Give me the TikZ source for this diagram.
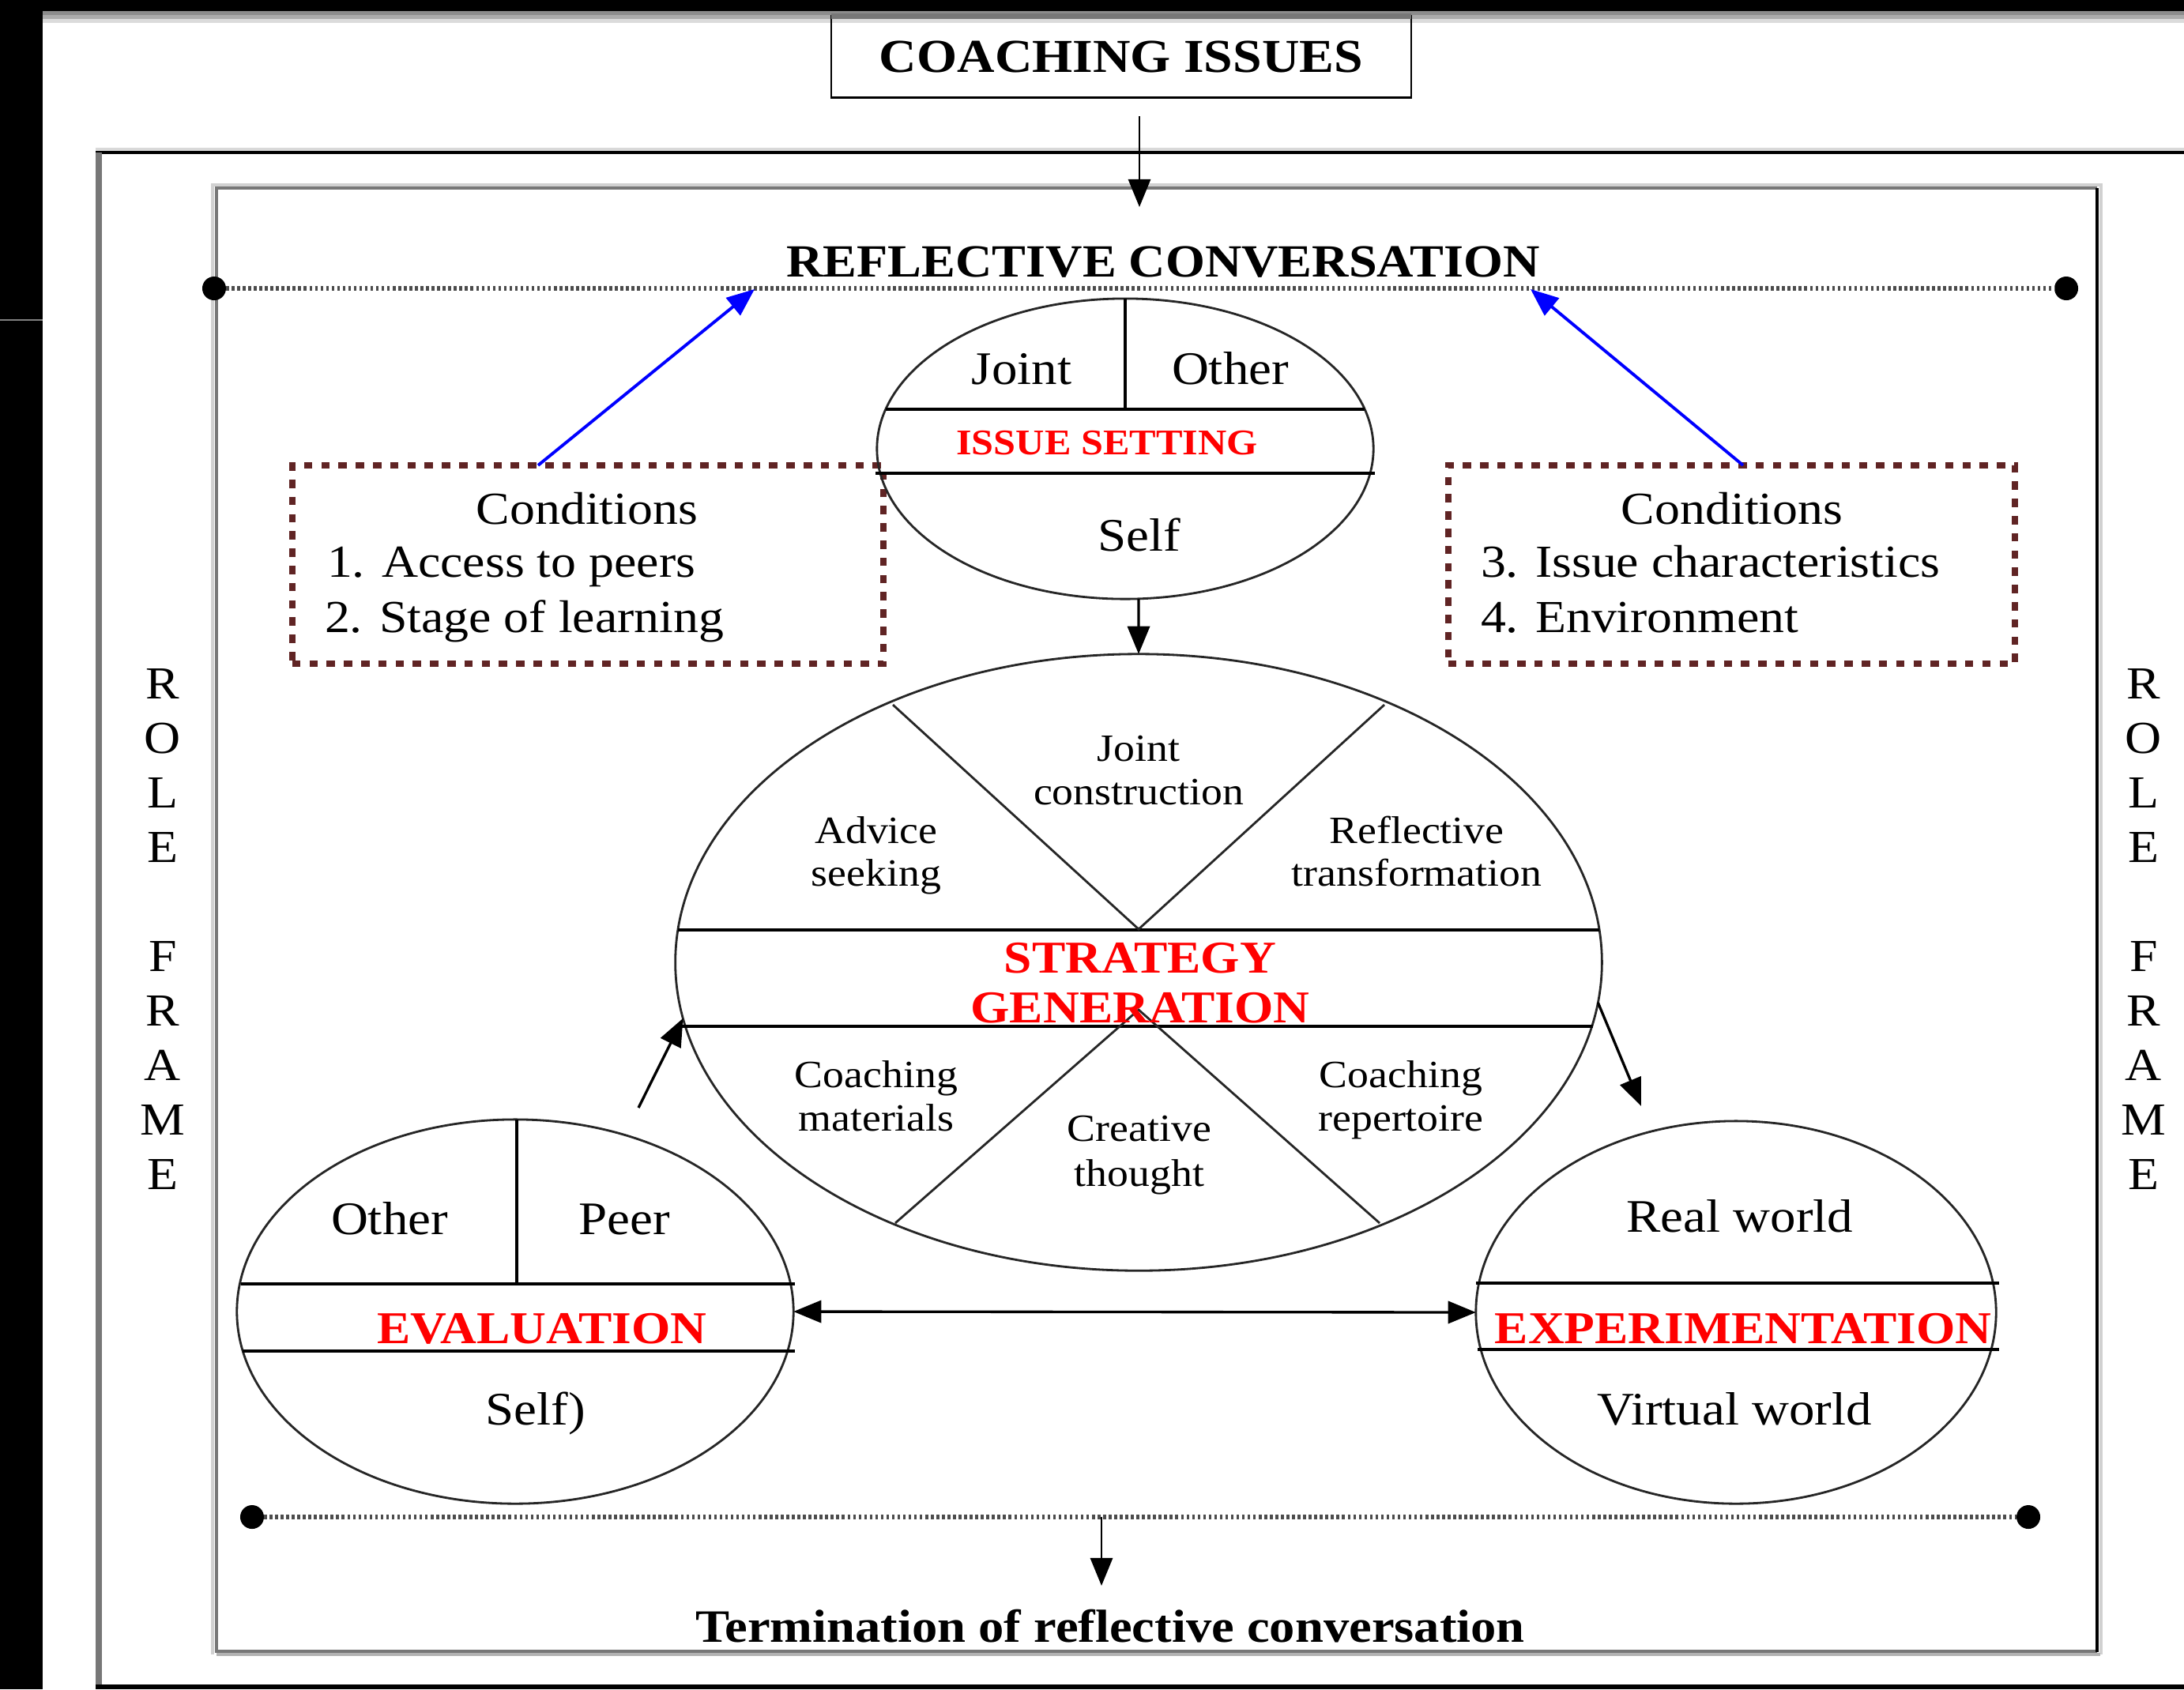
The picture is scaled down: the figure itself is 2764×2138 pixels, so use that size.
\documentclass[tikz,border=0pt]{standalone}
\usepackage{fontspec}
\setmainfont{Liberation Serif}[FakeStretch=1.1]
\usetikzlibrary{arrows.meta,shapes.geometric}
\definecolor{condbrown}{RGB}{96,36,36}
\definecolor{framegray}{RGB}{119,119,119}
\tikzset{
  every node/.style={inner sep=0pt, outer sep=0pt},
  txt/.style={anchor=base, font=\fontsize{16.8}{19}\selectfont},
  smalltxt/.style={anchor=base, font=\fontsize{13.9}{15.6}\selectfont},
  condtxt/.style={anchor=base, font=\fontsize{16.5}{19.5}\selectfont},
  redhead/.style={anchor=base, text=red, font=\bfseries\fontsize{16.4}{18}\selectfont},
  issuehead/.style={anchor=base, text=red, font=\bfseries\fontsize{13}{15}\selectfont},
  titletxt/.style={anchor=base, font=\bfseries\fontsize{16.6}{20}\selectfont},
  rolel/.style={anchor=base, font=\fontsize{16.5}{19}\selectfont},
  oval/.style={ellipse, draw=black!85, line width=0.8pt},
  sepline/.style={line width=1.1pt},
  diag/.style={line width=0.8pt, draw=black!85},
  arr/.style={line width=0.95pt, -{Triangle[length=10pt,width=8pt]}},
  dblarr/.style={line width=0.95pt, {Triangle[length=10pt,width=8pt]}-{Triangle[length=10pt,width=8pt]}},
  bluearr/.style={arr, line width=1.1pt, draw=blue},
  dotline/.style={line width=1.5pt, draw=black!70, dash pattern=on 1pt off 1pt},
  bigdot/.style={circle, fill=black, minimum size=0.3cm},
  condbox/.style={draw=condbrown, line width=2.2pt, dash pattern=on 3pt off 3.2pt},
}
\begin{document}
\begin{tikzpicture}[x=0.01cm,y=-0.01cm]
\useasboundingbox (0,0) rectangle (2764,2138);
\fill[white] (0,0) rectangle (2764,2138);
% screen edges
\fill[black] (0,0) rectangle (54,2138);
\fill[black] (0,0) rectangle (2764,14);
\fill[black!45] (54,14) rectangle (2764,19);
\fill[black!33] (54,19) rectangle (2764,24);
\fill[black!14] (54,24) rectangle (2764,29);
\draw[black!50, line width=0.6pt] (0,405) -- (54,405);

% outer frame
\draw[black!15, line width=1pt] (121,189) -- (2764,189);
\draw[black, line width=1.2pt] (121,193) -- (2764,193);
\draw[framegray, line width=2.2pt] (125,193) -- (125,2135);
\draw[black, line width=1.5pt] (121,2135) -- (2764,2135);

% inner frame
\draw[black!18, line width=1.2pt] (269,2094) -- (269,234) -- (2659,234) -- (2659,2094);
\draw[framegray, line width=1.2pt] (2654,238) -- (274,238) -- (274,2090) -- (2654,2090);
\draw[black, line width=1.2pt] (2654,238) -- (2654,2091);
\draw[black!30, line width=1.2pt] (274,2094) -- (2658,2094);

% title box
\node[draw=black, line width=0.6pt, minimum width=7.34cm, minimum height=1.03cm,
      font=\bfseries\fontsize{17}{20}\selectfont] (ci) at (1419,72) {COACHING ISSUES};
\draw[framegray, line width=2pt] (ci.north west) -- (ci.north east);
\draw[black, line width=1.1pt] (ci.south west) -- (ci.south east);

\node[titletxt] (rc) at (1472,350) {REFLECTIVE CONVERSATION};
\coordinate (ciOut) at (1442,147);
\coordinate (rcIn) at (1442,262);
\draw[arr, line width=0.8pt] (ciOut) -- (rcIn);

% dotted lines
\node[bigdot] (dtl) at (271,365) {};
\node[bigdot] (dtr) at (2615,365) {};
\draw[dotline] (dtl) -- (dtr);
\node[bigdot] (dbl) at (319,1920) {};
\node[bigdot] (dbr) at (2567,1920) {};
\draw[dotline] (dbl) -- (dbr);

% conditions boxes
\node[condbox, minimum width=7.48cm, minimum height=2.51cm] (c1) at (744,714.5) {};
\node[condtxt] (c1t) at (743,663) {Conditions};
\node[condtxt, anchor=base west] (c1a) at (414,730) {1. Access to peers};
\node[condtxt, anchor=base west] (c1b) at (411,800) {2. Stage of learning};
\node[condbox, minimum width=7.17cm, minimum height=2.51cm] (c2) at (2191.5,714.5) {};
\node[condtxt] (c2t) at (2192,663) {Conditions};
\node[condtxt, anchor=base west] (c2a) at (1874,730) {3. Issue characteristics};
\node[condtxt, anchor=base west] (c2b) at (1874,800) {4. Environment};
\coordinate (b1e) at (955,366);
\coordinate (b2e) at (1937,366);
\draw[bluearr] ([xshift=3.11cm]c1.north west) -- (b1e);
\draw[bluearr] ([xshift=3.73cm]c2.north west) -- (b2e);

% issue setting
\node[oval, minimum width=6.28cm, minimum height=3.80cm] (iss) at (1424,568) {};
\draw[sepline] (iss.north) -- (1424,518);
\draw[sepline] (1121,518) -- (1727,518);
\draw[sepline] (1108,599) -- (1740,599);
\node[txt] (isj) at (1293,486) {Joint};
\node[txt] (iso) at (1557,486) {Other};
\node[issuehead] (ish) at (1401,575) {ISSUE SETTING};
\node[txt] (iss2) at (1442,697) {Self};

% strategy generation
\node[oval, minimum width=11.72cm, minimum height=7.80cm] (sg) at (1441,1218) {};
\draw[sepline] (858,1177) -- (2024,1177);
\draw[sepline] (860,1299) -- (2016,1299);
\draw[diag] (1130,892) -- (1441,1176) -- (1752,892);
\draw[diag] (1133,1548) -- (1441,1278) -- (1746,1548);
\node[smalltxt] (sj1) at (1441,963) {Joint};
\node[smalltxt] (sj2) at (1441,1018) {construction};
\node[smalltxt] (sa1) at (1109,1067) {Advice};
\node[smalltxt] (sa2) at (1109,1121) {seeking};
\node[smalltxt] (sr1) at (1793,1067) {Reflective};
\node[smalltxt] (sr2) at (1793,1121) {transformation};
\node[redhead] (sh1) at (1443,1231) {STRATEGY};
\node[redhead] (sh2) at (1443,1294) {GENERATION};
\node[smalltxt] (sm1) at (1109,1376) {Coaching};
\node[smalltxt] (sm2) at (1109,1431) {materials};
\node[smalltxt] (sc1) at (1442,1444) {Creative};
\node[smalltxt] (sc2) at (1442,1501) {thought};
\node[smalltxt] (sp1) at (1773,1376) {Coaching};
\node[smalltxt] (sp2) at (1773,1431) {repertoire};

% evaluation
\node[oval, minimum width=7.04cm, minimum height=4.86cm] (ev) at (652,1660) {};
\draw[sepline] (ev.north -| 654,0) -- (654,1625);
\draw[sepline] (305,1625) -- (1006,1625);
\draw[sepline] (307,1710) -- (1006,1710);
\node[txt] (evo) at (493,1562) {Other};
\node[txt] (evp) at (790,1562) {Peer};
\node[redhead] (evh) at (686,1700) {EVALUATION};
\node[txt] (evs) at (678,1803) {Self)};

% experimentation
\node[oval, minimum width=6.58cm, minimum height=4.84cm] (ex) at (2197,1661) {};
\draw[sepline] (1868,1624) -- (2530,1624);
\draw[sepline] (1870,1708) -- (2530,1708);
\node[txt] (exr) at (2202,1559) {Real world};
\node[redhead] (exh) at (2206,1700) {EXPERIMENTATION};
\node[txt] (exv) at (2195,1803) {Virtual world};

% connectors between ovals
\draw[arr] ([xshift=0.17cm]iss.south) -- (sg.north);
\coordinate (evOut) at (808,1402);
\draw[arr] (evOut) -- (sg.187);
\coordinate (exIn) at (2077,1400);
\draw[arr] (sg.355) -- (exIn);
\draw[dblarr] (ev.east) -- (ex.west);

% termination
\coordinate (tmOut) at (1394,1920);
\coordinate (tmIn) at (1394,2007);
\draw[arr, line width=0.8pt] (tmOut) -- (tmIn);
\node[anchor=base, font=\bfseries\fontsize{16.7}{20}\selectfont] (term) at (1405,2078) {Termination of reflective conversation};

% role frame letters
\foreach \ch/\yy in {R/884, O/953, L/1022, E/1091, F/1229, R/1298, A/1367, M/1436, E/1505}{
  \node[rolel] (rl\yy) at (206,\yy) {\ch};
  \node[rolel] (rr\yy) at (2713,\yy) {\ch};
}
\end{tikzpicture}
\end{document}
